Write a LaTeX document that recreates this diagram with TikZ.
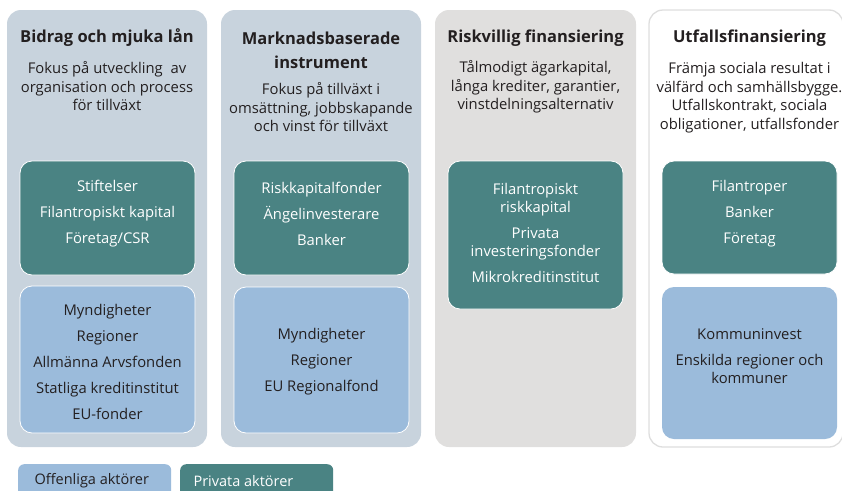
\documentclass[tikz,border=0pt]{standalone}
\usepackage{fontspec}
\setmainfont{Open Sans}
\definecolor{panelblue}{HTML}{C8D3DD}
\definecolor{panelgray}{HTML}{E0DFDE}
\definecolor{panelline}{HTML}{DEDEDE}
\definecolor{privgreen}{HTML}{4A8383}
\definecolor{pubblue}{HTML}{9BBBDB}
\definecolor{ink}{HTML}{231F20}
\begin{document}
\begin{tikzpicture}[x=1pt,y=-1pt,
  panel/.style={rounded corners=14pt, inner sep=0pt, minimum height=437pt},
  privbox/.style={draw=white, line width=0.8pt, fill=privgreen, rounded corners=12pt, inner sep=0pt, minimum width=175pt},
  pubbox/.style={draw=white, line width=0.8pt, fill=pubblue, rounded corners=12pt, inner sep=0pt, minimum width=175pt},
  title/.style={font=\fontsize{16.5}{24}\selectfont\bfseries, text=ink, align=center},
  sub/.style={font=\fontsize{14.8}{18.5}\selectfont, text=ink, align=center},
  itemw/.style={font=\fontsize{14.8}{18}\selectfont, text=white, align=center},
  itemd/.style={font=\fontsize{14.8}{18}\selectfont, text=ink, align=center},
  legendtext/.style={font=\fontsize{14.5}{18}\selectfont, align=left, anchor=west},
  legend/.style={inner sep=0pt, minimum width=153pt, minimum height=40pt, anchor=north west, rounded corners=6pt},
]
\useasboundingbox (0,0) rectangle (842,490);
\clip (0,0) rectangle (842,490);

% column panels
\node[panel, fill=panelblue, minimum width=200pt] (c1) at (107,228.5) {};
\node[panel, fill=panelblue, minimum width=200pt] (c2) at (321,228.5) {};
\node[panel, fill=panelgray, minimum width=201pt] (c3) at (535.5,228.5) {};
\node[panel, draw=panelline, line width=1.3pt, fill=white, minimum width=194pt] (c4) at (746,228.5) {};

% column headings
\node[title] (t1) at (107,38) {Bidrag och mjuka lån};
\node[sub] (s1) at (107,86.5) {Fokus på utveckling\ \ av\\organisation och process\\för tillväxt};
\node[title] (t2) at (321,50) {Marknadsbaserade\\instrument};
\node[sub] (s2) at (321,107.5) {Fokus på tillväxt i\\omsättning, jobbskapande\\och vinst för tillväxt};
\node[title] (t3) at (535.5,38) {Riskvillig finansiering};
\node[sub] (s3) at (535.5,87) {Tålmodigt ägarkapital,\\långa krediter, garantier,\\vinstdelningsalternativ};
\node[title] (t4) at (749.5,38) {Utfallsfinansiering};
\node[sub] (s4) at (749.5,97.5) {Främja sociala resultat i\\välfärd och samhällsbygge.\\Utfallskontrakt, sociala\\obligationer, utfallsfonder};

% private actors
\node[privbox, minimum height=114pt] (p1) at (107.5,218) {};
\node[itemw] at (107.5,214) {Stiftelser\\[8pt]Filantropiskt kapital\\[8pt]Företag/CSR};
\node[privbox, minimum height=114pt] (p2) at (321.5,218) {};
\node[itemw] at (321.5,214) {Riskkapitalfonder\\[8pt]Ängelinvesterare\\[8pt]Banker};
\node[privbox, minimum height=148pt] (p3) at (535.5,235) {};
\node[itemw] at (535.5,232.5) {Filantropiskt\\riskkapital\\[8pt]Privata\\investeringsfonder\\[8pt]Mikrokreditinstitut};
\node[privbox, minimum height=113pt] (p4) at (749.5,217.5) {};
\node[itemw] at (749.5,214) {Filantroper\\[8pt]Banker\\[8pt]Företag};

% public actors
\node[pubbox, minimum height=147pt] (b1) at (107.5,359.5) {};
\node[itemd] at (107.5,362) {Myndigheter\\[8pt]Regioner\\[8pt]Allmänna Arvsfonden\\[8pt]Statliga kreditinstitut\\[8pt]EU-fonder};
\node[pubbox, minimum height=146pt] (b2) at (321.5,360) {};
\node[itemd] at (321.5,361.5) {Myndigheter\\[8pt]Regioner\\[8pt]EU Regionalfond};
\node[pubbox, draw=none, minimum height=152pt] (b4) at (749.5,363) {};
\node[itemd] at (749.5,356.5) {Kommuninvest\\[8pt]Enskilda regioner och\\kommuner};

% legend
\node[legend, fill=pubblue] (lpub) at (18,464) {};
\node[legendtext, text=ink] (lpubtext) at (31,481) {Offenliga aktörer};
\node[legend, fill=privgreen] (lpriv) at (180,464) {};
\node[legendtext, text=white] (lprivtext) at (190,481) {Privata aktörer};
\end{tikzpicture}
\end{document}
